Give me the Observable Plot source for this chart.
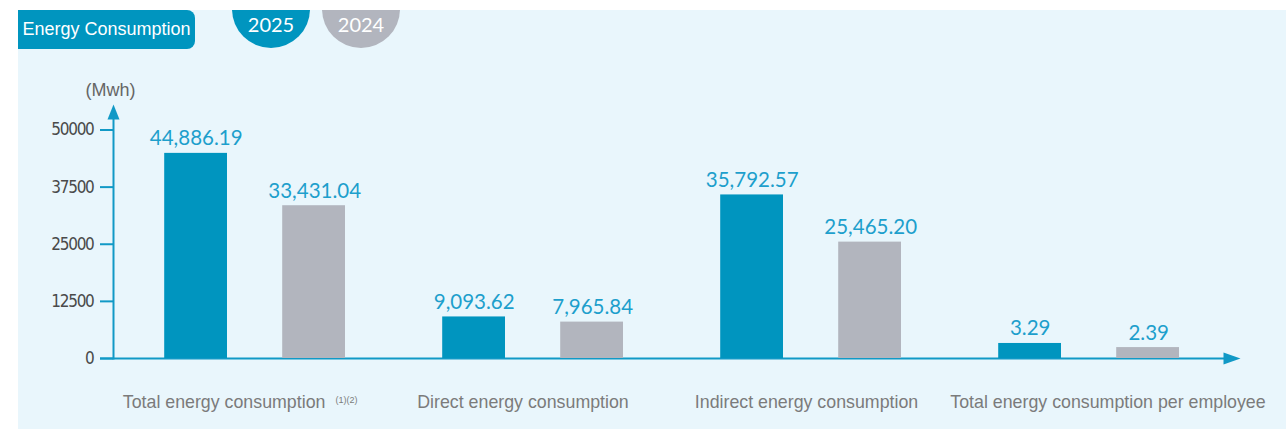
<!DOCTYPE html>
<html>
<head>
<meta charset="utf-8">
<script src="https://cdn.jsdelivr.net/npm/d3@7"></script>
<script src="https://cdn.jsdelivr.net/npm/@observablehq/plot@0.6"></script>
<style>
  html, body { margin: 0; padding: 0; background: #ffffff; width: 1286px; height: 429px; overflow: hidden; }
  #panel { position: absolute; left: 18px; top: 10px; width: 1268px; height: 419px; background: #e9f6fc; overflow: hidden; }
  #tag { position: absolute; left: 0; top: 0; width: 177px; height: 39px; border-radius: 0 8px 8px 0;
         color: #ffffff; font: 18px "Liberation Sans", Arial, sans-serif; line-height: 39px; text-align: center; }
  .yr { position: absolute; top: -40px; width: 78px; height: 78px; border-radius: 50%; }
  .yr span { position: absolute; left: 0; width: 100%; top: 42px; line-height: 20px; text-align: center;
             color: #ffffff; font: 20px Lato, "Open Sans", sans-serif; }
  #chart { position: absolute; left: 0; top: 0; }
  #chart svg { display: block; }
  #chart g[aria-label="y-axis tick label"] text { letter-spacing: -1.3px; }
</style>
</head>
<body>
<div id="panel">
  <div id="tag"></div>
  <div class="yr" id="yr0"><span></span></div>
  <div class="yr" id="yr1"><span></span></div>
</div>
<div id="chart"></div>
<script>
// ---- data ----
const title = "Energy Consumption";
const unitLabel = "(Mwh)";
const years = ["2025", "2024"];
const categories = [
  "Total energy consumption",
  "Direct energy consumption",
  "Indirect energy consumption",
  "Total energy consumption per employee"
];
const footnote = "(1)(2)";
const values2025 = [44886.19, 9093.62, 35792.57, 3.29];
const values2024 = [33431.04, 7965.84, 25465.20, 2.39];
const yTicks = [0, 12500, 25000, 37500, 50000];
// per-employee figures (MWh/employee) are drawn in kWh so the bars are visible on the MWh axis
const perEmployeeCategory = "Total energy consumption per employee";
const perEmployeeBarFactor = 1000;

// ---- styles ----
const colors = {"2025": "#0095bf", "2024": "#b2b5be"};
const axisColor = "#1199c6";
const valueColor = "#1d9fcc";
const fmt = d3.format(",.2f");

// header (legend circles)
document.getElementById("tag").textContent = title;
document.getElementById("tag").style.background = colors["2025"];
const yr0 = document.getElementById("yr0"), yr1 = document.getElementById("yr1");
yr0.style.left = "214px"; yr0.style.background = colors[years[0]]; yr0.firstElementChild.textContent = years[0];
yr1.style.left = "304px"; yr1.style.background = colors[years[1]]; yr1.firstElementChild.textContent = years[1];

function rowsFor(values) {
  return categories.map((c, i) => ({
    category: c,
    value: values[i],
    bar: c === perEmployeeCategory ? values[i] * perEmployeeBarFactor : values[i]
  }));
}
const rows2025 = rowsFor(values2025);
const rows2024 = rowsFor(values2024);

const arrowRight = {draw(ctx) { ctx.moveTo(8.6, 0); ctx.lineTo(-8.4, -6); ctx.lineTo(-8.4, 6); ctx.closePath(); }};
const arrowUp = {draw(ctx) { ctx.moveTo(0, -25.5); ctx.lineTo(6, -10.5); ctx.lineTo(-6, -10.5); ctx.closePath(); }};

const labelFont = '"Liberation Sans", Arial, sans-serif';
const valueFont = 'Lato, "Open Sans", sans-serif';
const tickFont = '"DejaVu Sans Condensed", "Liberation Sans Narrow", sans-serif';

function categoryLabel(cat, dx) {
  return Plot.text([cat], {
    x: d => d, text: d => d, frameAnchor: "bottom", dy: 49.7, dx,
    lineAnchor: "bottom", textAnchor: "middle",
    fill: "#7b7b7b", fontSize: 17.8, fontFamily: labelFont
  });
}

const chart = Plot.plot({
  width: 1286,
  height: 429,
  marginLeft: 113,
  marginRight: 54.6,
  marginTop: 129.5,
  marginBottom: 71,
  style: {background: "transparent", overflow: "visible"},
  x: {type: "band", domain: categories, paddingInner: 0, paddingOuter: 0.01, axis: null},
  y: {domain: [0, 50000]},
  marks: [
    Plot.axisY({
      ticks: yTicks, tickSize: 13, tickPadding: 7, label: null,
      tickFormat: d => String(d),
      stroke: axisColor, strokeWidth: 2, fill: "#4a4a4a",
      fontSize: 17, fontFamily: tickFont
    }),
    Plot.frame({anchor: "left", insetTop: -11, stroke: axisColor, strokeWidth: 2}),
    Plot.ruleY([0], {insetLeft: -13, stroke: axisColor, strokeWidth: 2}),
    Plot.dot([0], {y: d => d, frameAnchor: "right", symbol: arrowRight, fill: axisColor, stroke: "none"}),
    Plot.dot([yTicks[yTicks.length - 1]], {y: d => d, frameAnchor: "left", symbol: arrowUp, fill: axisColor, stroke: "none"}),
    Plot.barY(rows2025, {x: "category", y: "bar", fill: colors["2025"], insetLeft: 48.2, insetRight: 167}),
    Plot.barY(rows2024, {x: "category", y: "bar", fill: colors["2024"], insetLeft: 166.2, insetRight: 49}),
    Plot.text(rows2025, {x: "category", y: "bar", text: d => fmt(d.value), dx: -59.3, dy: -8,
      lineAnchor: "bottom", textAnchor: "middle", fill: valueColor, fontSize: 20.5, fontFamily: valueFont}),
    Plot.text(rows2024, {x: "category", y: "bar", text: d => fmt(d.value), dx: 59.2, dy: -8,
      lineAnchor: "bottom", textAnchor: "middle", fill: valueColor, fontSize: 20.5, fontFamily: valueFont}),
    categoryLabel(categories[0], -31.4),
    Plot.text([categories[0]], {x: d => d, text: () => footnote, frameAnchor: "bottom", dx: 80, dy: 44,
      lineAnchor: "bottom", textAnchor: "start", fill: "#7b7b7b", fontSize: 9, fontFamily: labelFont}),
    categoryLabel(categories[1], -10.5),
    categoryLabel(categories[2], -5),
    categoryLabel(categories[3], 18.5),
    Plot.text([unitLabel], {text: d => d, frameAnchor: "top-left", dx: -3, dy: -33.8,
      lineAnchor: "bottom", textAnchor: "middle", fill: "#666666", fontSize: 18, fontFamily: labelFont})
  ]
});
document.getElementById("chart").appendChild(chart);
</script>
</body>
</html>
